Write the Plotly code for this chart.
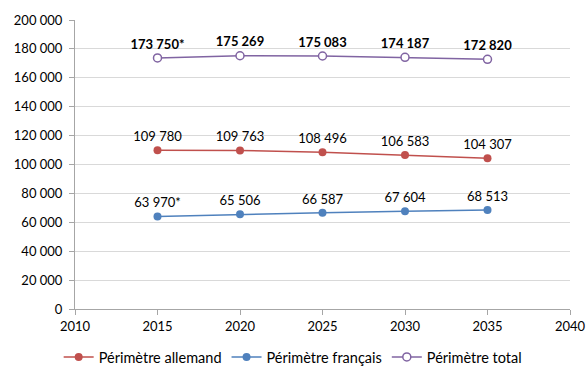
import plotly.graph_objects as go

years = [2015, 2020, 2025, 2030, 2035]
allemand = [109780, 109763, 108496, 106583, 104307]
francais = [63970, 65506, 66587, 67604, 68513]
total = [173750, 175269, 175083, 174187, 172820]

lab_allemand = ["109 780", "109 763", "108 496", "106 583", "104 307"]
lab_francais = ["63 970*", "65 506", "66 587", "67 604", "68 513"]
lab_total = ["<b>173 750*</b>", "<b>175 269</b>", "<b>175 083</b>", "<b>174 187</b>", "<b>172 820</b>"]

y_ticks = list(range(0, 200001, 20000))
y_ticktext = [f"{v:,}".replace(",", " ") for v in y_ticks]

FONT = "Lato, 'Open Sans', sans-serif"

fig = go.Figure()
fig.add_trace(go.Scatter(
    x=years, y=allemand, name="Périmètre allemand",
    mode="lines+markers+text", text=lab_allemand, textposition="top center",
    line=dict(color="#C0504D", width=1.5),
    marker=dict(color="#C0504D", size=8),
    textfont=dict(size=13, color="#000000"),
))
fig.add_trace(go.Scatter(
    x=years, y=francais, name="Périmètre français",
    mode="lines+markers+text", text=lab_francais, textposition="top center",
    line=dict(color="#4F81BD", width=1.5),
    marker=dict(color="#4F81BD", size=8),
    textfont=dict(size=13, color="#000000"),
))
fig.add_trace(go.Scatter(
    x=years, y=total, name="Périmètre total",
    mode="lines+markers+text", text=lab_total, textposition="top center",
    line=dict(color="#8064A2", width=1.5),
    marker=dict(color="white", size=8, symbol="circle",
                line=dict(color="#8064A2", width=1.5)),
    textfont=dict(size=13, color="#000000"),
))

fig.update_layout(
    width=586, height=367,
    margin=dict(l=75, r=16, t=20, b=58, autoexpand=False),
    paper_bgcolor="white", plot_bgcolor="white",
    font=dict(family=FONT, size=13, color="#000000"),
    showlegend=True,
    legend=dict(orientation="h", x=-0.033, xanchor="left", y=-0.166, yanchor="middle",
                font=dict(size=14.5), itemwidth=30, traceorder="normal"),
    xaxis=dict(range=[2010, 2040], tickvals=[2010, 2015, 2020, 2025, 2030, 2035, 2040],
               showgrid=False, zeroline=False, showline=True, linecolor="#A6A6A6",
               ticks="outside", tickcolor="#A6A6A6", ticklen=5, tickfont=dict(size=13)),
    yaxis=dict(range=[0, 200000], tickvals=y_ticks, ticktext=y_ticktext,
               showgrid=True, gridcolor="#D9D9D9", zeroline=False,
               showline=True, linecolor="#A6A6A6", ticklabelstandoff=4,
               ticks="outside", tickcolor="#A6A6A6", ticklen=5, tickfont=dict(size=13)),
)

fig.write_html("out.html")
